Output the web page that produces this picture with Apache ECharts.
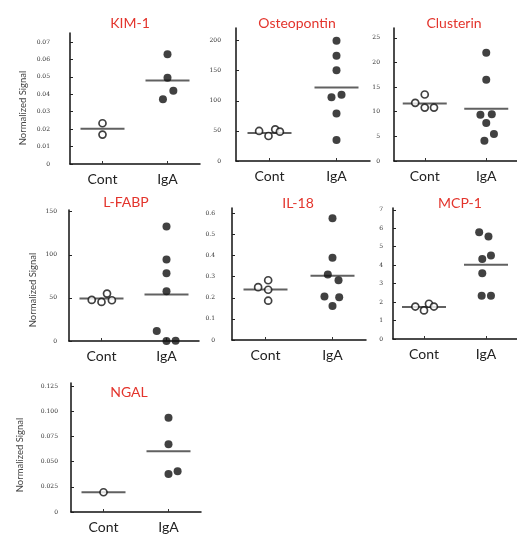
<!DOCTYPE html>
<html>
<head>
<meta charset="utf-8">
<script src="https://cdn.jsdelivr.net/npm/echarts@6/dist/echarts.min.js"></script>
<style>
  html, body { margin: 0; padding: 0; background: #fff; }
  #chart { width: 517px; height: 534px; }
</style>
</head>
<body>
<div id="chart"></div>
<script>
// groups on the x axis and the marker names (panel titles)
var groups = ['Cont', 'IgA'];
var markers = ['KIM-1', 'Osteopontin', 'Clusterin', 'L-FABP', 'IL-18', 'MCP-1', 'NGAL'];

// values per marker; ...X = horizontal spread of the dots inside the group, ...Mean = group line
var kimCont = [0.0234, 0.0169];
var kimContX = [0, 0];
var kimIgA = [0.063, 0.0495, 0.042, 0.0372];
var kimIgAX = [0, 0, 0.09, -0.07];
var kimMean = [0.0203, 0.048];
var kimTicks = [0, 0.01, 0.02, 0.03, 0.04, 0.05, 0.06, 0.07];

var optCont = [49.9, 41.5, 52.6, 48.8];
var optContX = [-0.155, -0.015, 0.085, 0.155];
var optIgA = [200, 175, 151, 106, 110, 79, 35];
var optIgAX = [0, 0, 0, -0.075, 0.075, 0, 0];
var optMean = [46.5, 122];
var optTicks = [0, 50, 100, 150, 200];

var cluCont = [11.8, 13.5, 10.85, 10.85];
var cluContX = [-0.155, 0, 0, 0.15];
var cluIgA = [22, 16.5, 9.4, 9.5, 7.7, 5.5, 4.1];
var cluIgAX = [0, 0, -0.095, 0.09, 0, 0.125, -0.03];
var cluMean = [11.66, 10.6];
var cluTicks = [0, 5, 10, 15, 20, 25];

var fabCont = [47.7, 45.3, 55, 47.3];
var fabContX = [-0.15, 0, 0.085, 0.16];
var fabIgA = [133, 94.6, 78.7, 57.8, 11.6, 0, 0.4];
var fabIgAX = [0, 0, 0, 0, -0.15, 0, 0.14];
var fabMean = [49.2, 53.9];
var fabTicks = [0, 50, 100, 150];

var ilCont = [0.25, 0.283, 0.238, 0.186];
var ilContX = [-0.11, 0.04, 0.04, 0.04];
var ilIgA = [0.576, 0.389, 0.31, 0.283, 0.206, 0.203, 0.161];
var ilIgAX = [0, 0, -0.07, 0.09, -0.12, 0.1, 0];
var ilMean = [0.239, 0.304];
var ilTicks = [0, 0.1, 0.2, 0.3, 0.4, 0.5, 0.6];

var mcpCont = [1.76, 1.55, 1.91, 1.76];
var mcpContX = [-0.14, 0, 0.08, 0.16];
var mcpIgA = [5.79, 5.56, 4.34, 4.53, 3.56, 2.34, 2.34];
var mcpIgAX = [-0.11, 0.04, -0.06, 0.08, -0.06, -0.07, 0.08];
var mcpMean = [1.73, 4.03];
var mcpTicks = [0, 1, 2, 3, 4, 5, 6, 7];

var ngCont = [0.0196];
var ngContX = [0];
var ngIgA = [0.0935, 0.0673, 0.0378, 0.0405];
var ngIgAX = [0, 0, 0, 0.14];
var ngMean = [0.0196, 0.0603];
var ngTicks = [0, 0.025, 0.05, 0.075, 0.1, 0.125];

var FONT = 'Lato, "Open Sans", sans-serif';

// panel layout (pixels) + axis top + label decimals
var panels = [
	{ cont: kimCont, contX: kimContX, iga: kimIgA, igaX: kimIgAX, mean: kimMean, ticks: kimTicks,
	  left: 70, top: 33, width: 130, height: 131, max: 0.0752, digits: 2, margin: 20, tx: 130, ty: 16 },
	{ cont: optCont, contX: optContX, iga: optIgA, igaX: optIgAX, mean: optMean, ticks: optTicks,
	  left: 236, top: 28, width: 134, height: 133, max: 221, digits: 0, margin: 15, tx: 297, ty: 16 },
	{ cont: cluCont, contX: cluContX, iga: cluIgA, igaX: cluIgAX, mean: cluMean, ticks: cluTicks,
	  left: 394, top: 28, width: 130, height: 133, max: 27, digits: 0, margin: 14, tx: 454, ty: 16 },
	{ cont: fabCont, contX: fabContX, iga: fabIgA, igaX: fabIgAX, mean: fabMean, ticks: fabTicks,
	  left: 69, top: 210, width: 130, height: 131, max: 152, digits: 0, margin: 12, tx: 126, ty: 195 },
	{ cont: ilCont, contX: ilContX, iga: ilIgA, igaX: ilIgAX, mean: ilMean, ticks: ilTicks,
	  left: 232, top: 208, width: 134, height: 132, max: 0.625, digits: 1, margin: 17, tx: 298, ty: 196 },
	{ cont: mcpCont, contX: mcpContX, iga: mcpIgA, igaX: mcpIgAX, mean: mcpMean, ticks: mcpTicks,
	  left: 393, top: 208, width: 130, height: 131, max: 7.1, digits: 0, margin: 10, tx: 460, ty: 196 },
	{ cont: ngCont, contX: ngContX, iga: ngIgA, igaX: ngIgAX, mean: ngMean, ticks: ngTicks,
	  left: 71, top: 383, width: 130, height: 129, max: 0.128, digits: 3, margin: 13, tx: 129, ty: 385 }
];

var chart = echarts.init(document.getElementById('chart'));

var grids = [], xAxes = [], yAxes = [], series = [], titles = [];

panels.forEach(function(p, i) {
	grids.push({ left: p.left, top: p.top, width: p.width, height: p.height });

	xAxes.push({
		gridIndex: i, type: 'value', min: 0, max: 2,
		axisLine: { lineStyle: { color: '#111', width: 1.5 } },
		axisTick: { inside: true, length: 3, customValues: [0.5, 1.5], lineStyle: { color: '#333' } },
		axisLabel: {
			customValues: [0.5, 1.5], margin: 8, fontSize: 14, color: '#222', fontFamily: FONT,
			formatter: function(v) { return groups[Math.round(v - 0.5)]; }
		},
		splitLine: { show: false }
	});

	yAxes.push({
		gridIndex: i, type: 'value', min: 0, max: p.max,
		axisLine: { show: true, lineStyle: { color: '#111', width: 1.5 } },
		axisTick: { show: true, inside: true, length: 3, customValues: p.ticks, lineStyle: { color: '#222' } },
		axisLabel: {
			customValues: p.ticks, margin: p.margin, fontSize: 6, color: '#333', fontFamily: 'DejaVu Serif',
			formatter: function(v) { return v === 0 ? '0' : v.toFixed(p.digits); }
		},
		splitLine: { show: false }
	});

	titles.push({
		text: markers[i], left: p.tx, top: p.ty, textAlign: 'center', padding: 0,
		textStyle: { color: '#e3342c', fontSize: 14, fontWeight: 'normal', fontFamily: FONT }
	});

	// group line
	series.push({
		type: 'scatter', xAxisIndex: i, yAxisIndex: i, symbol: 'rect', symbolSize: [44, 2], z: 1,
		itemStyle: { color: '#3a3a3a' },
		data: [[0.5, p.mean[0]], [1.5, p.mean[1]]]
	});
	// controls: open circles
	series.push({
		type: 'scatter', xAxisIndex: i, yAxisIndex: i, symbol: 'circle', symbolSize: 7, z: 3,
		itemStyle: { color: '#fff', borderColor: '#111', borderWidth: 1.7 },
		data: p.cont.map(function(v, k) { return [0.5 + p.contX[k], v]; })
	});
	// IgA: filled dots
	series.push({
		type: 'scatter', xAxisIndex: i, yAxisIndex: i, symbol: 'circle', symbolSize: 8, z: 3,
		itemStyle: { color: '#111' },
		data: p.iga.map(function(v, k) { return [1.5 + p.igaX[k], v]; })
	});
});

// y axis titles of the left column
var yName = 'Normalized Signal';
var graphics = [[23, 108], [33, 290], [20, 455]].map(function(pos) {
	return {
		type: 'text', x: pos[0], y: pos[1], rotation: Math.PI / 2,
		style: { text: yName, fill: '#444', fontSize: 9.5, fontFamily: FONT, align: 'center', verticalAlign: 'middle' }
	};
});

chart.setOption({
	animation: false,
	title: titles,
	grid: grids,
	xAxis: xAxes,
	yAxis: yAxes,
	graphic: graphics,
	series: series
});
</script>
</body>
</html>
